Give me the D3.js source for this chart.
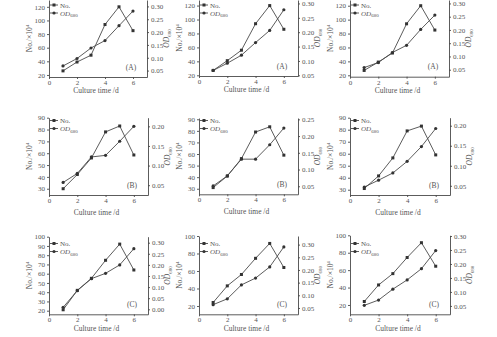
<!DOCTYPE html>
<html><head><meta charset="utf-8">
<script src="https://cdn.jsdelivr.net/npm/d3@7"></script>
<style>
body{margin:0;background:#fff}
svg{display:block}
text{font-family:"Liberation Serif","DejaVu Serif",serif;fill:#555}
</style>
</head><body>
<svg id="c" width="497" height="337"></svg>
<script>
// ---------- data ----------
const days = [1, 2, 3, 4, 5, 6];
const xTicks = [0, 2, 4, 6];
const panelLabels = ["(A)", "(A)", "(A)", "(B)", "(B)", "(B)", "(C)", "(C)", "(C)"];
const seriesNames = ["No.", "OD"];

const noA1 = [26, 39, 49, 94, 120, 85];
const odA1 = [0.068, 0.097, 0.138, 0.167, 0.225, 0.282];
const noA2 = [27, 41, 56, 94, 120, 86];
const odA2 = [0.067, 0.092, 0.120, 0.164, 0.206, 0.278];
const noA3 = [27, 39, 52, 94, 120, 85];
const odA3 = [0.058, 0.077, 0.115, 0.142, 0.202, 0.256];

const noB1 = [30, 42, 56, 78, 83, 58.5];
const odB1 = [0.057, 0.080, 0.122, 0.126, 0.162, 0.200];
const noB2 = [31, 41, 56, 79, 83.5, 59];
const odB2 = [0.051, 0.081, 0.131, 0.131, 0.174, 0.224];
const noB3 = [31, 41.5, 56.5, 79, 83, 59];
const odB3 = [0.047, 0.064, 0.082, 0.111, 0.148, 0.193];

const noC1 = [21, 42, 55, 74.5, 92, 64];
const odC1 = [0.009, 0.084, 0.138, 0.162, 0.200, 0.273];
const noC2 = [24, 43, 56, 74.5, 91.5, 64];
const odC2 = [0.063, 0.086, 0.141, 0.168, 0.212, 0.291];
const noC3 = [24, 43, 56, 74.5, 91.5, 64.5];
const odC3 = [0.052, 0.071, 0.110, 0.143, 0.183, 0.248];

const leftTicksA = [20, 40, 60, 80, 100, 120];
const leftTicksB = [30, 40, 50, 60, 70, 80, 90];
const leftTicksC1 = [20, 30, 40, 50, 60, 70, 80, 90, 100];
const leftTicksC = [20, 40, 60, 80, 100];
const rightTicksA = [0.05, 0.10, 0.15, 0.20, 0.25, 0.30];
const rightTicksB = [0.05, 0.10, 0.15, 0.20];
const rightTicksB2 = [0.05, 0.10, 0.15, 0.20, 0.25];
const rightTicksC1 = [0.00, 0.05, 0.10, 0.15, 0.20, 0.25, 0.30];
const rightTicksC = [0.05, 0.10, 0.15, 0.20, 0.25, 0.30];

// ---------- layout ----------
const panels = [
  {no:noA1, od:odA1, lt:leftTicksA, rt:rightTicksA, x0:49, x1:147, y0:0, y1:77, ld:[17,130], rd:[0.025,0.325], row:0},
  {no:noA2, od:odA2, lt:leftTicksA, rt:rightTicksA, x0:199, x1:298, y0:0, y1:76, ld:[19,128], rd:[0.0476,0.312], row:0},
  {no:noA3, od:odA3, lt:leftTicksA, rt:rightTicksA, x0:350, x1:449, y0:0, y1:76.7, ld:[18,128.2], rd:[0.0236,0.313], row:0},
  {no:noB1, od:odB1, lt:leftTicksB, rt:rightTicksB, x0:49, x1:148, y0:117.7, y1:195, ld:[24.7,90], rd:[0.025,0.222], row:1},
  {no:noB2, od:odB2, lt:leftTicksB, rt:rightTicksB2, x0:199, x1:298, y0:118, y1:194.3, ld:[25.2,91.1], rd:[0.026,0.254], row:1},
  {no:noB3, od:odB3, lt:leftTicksB, rt:rightTicksB, x0:350, x1:450, y0:117.7, y1:195, ld:[25.6,90], rd:[0.027,0.22], row:1},
  {no:noC1, od:odC1, lt:leftTicksC1, rt:rightTicksC1, x0:49, x1:148, y0:236.7, y1:314.3, ld:[16.1,100], rd:[-0.0225,0.327], row:2},
  {no:noC2, od:odC2, lt:leftTicksC, rt:rightTicksC, x0:199, x1:298, y0:236, y1:314.3, ld:[10.5,100], rd:[0.025,0.334], row:2},
  {no:noC3, od:odC3, lt:leftTicksC, rt:rightTicksC, x0:350, x1:450, y0:235.3, y1:314.3, ld:[9.3,100], rd:[0.020,0.3025], row:2}
];
const titleOffset = [13.5, 17, 14];
const legendY = [5, 120.5, 243.5];

const svg = d3.select("#c");
const ink = "#4a4a4a";
const fmt2 = d3.format(".2f");
const fmtInt = d3.format("d");

panels.forEach((p, i) => {
  const g = svg.append("g");
  const x = d3.scaleLinear().domain([0, 7]).range([p.x0, p.x1]);
  const yL = d3.scaleLinear().domain(p.ld).range([p.y1, p.y0]);
  const yR = d3.scaleLinear().domain(p.rd).range([p.y1, p.y0]);

  const styleAxis = sel => {
    sel.selectAll("path,line").attr("stroke", ink).attr("stroke-width", 0.9);
    sel.selectAll("text").attr("font-size", 7).attr("fill", "#555")
      .attr("font-family", "'Liberation Serif',serif");
  };

  g.append("g").attr("transform", `translate(0,${p.y1})`)
    .call(d3.axisBottom(x).tickValues(xTicks).tickFormat(fmtInt).tickSize(2).tickPadding(1).tickSizeOuter(0))
    .call(styleAxis);
  g.append("g").attr("transform", `translate(${p.x0},0)`)
    .call(d3.axisLeft(yL).tickValues(p.lt).tickFormat(fmtInt).tickSize(2).tickPadding(2).tickSizeOuter(0))
    .call(styleAxis);
  g.append("g").attr("transform", `translate(${p.x1},0)`)
    .call(d3.axisRight(yR).tickValues(p.rt).tickFormat(fmt2).tickSize(2).tickPadding(2).tickSizeOuter(0))
    .call(styleAxis);

  // lines
  const lineL = d3.line().x((d, j) => x(days[j])).y(d => yL(d));
  const lineR = d3.line().x((d, j) => x(days[j])).y(d => yR(d));
  g.append("path").attr("d", lineL(p.no)).attr("fill", "none").attr("stroke", ink).attr("stroke-width", 0.9);
  g.append("path").attr("d", lineR(p.od)).attr("fill", "none").attr("stroke", ink).attr("stroke-width", 0.9);
  g.selectAll(".mn").data(p.no).enter().append("rect")
    .attr("x", (d, j) => x(days[j]) - 1.5).attr("y", d => yL(d) - 1.5)
    .attr("width", 3).attr("height", 3).attr("fill", "#333");
  g.selectAll(".mo").data(p.od).enter().append("circle")
    .attr("cx", (d, j) => x(days[j])).attr("cy", d => yR(d)).attr("r", 1.6).attr("fill", "#333");

  // axis titles
  const cy = (p.y0 + p.y1) / 2;
  g.append("text").attr("x", (p.x0 + p.x1) / 2 - 2).attr("y", p.y1 + titleOffset[p.row] + 2.5)
    .attr("text-anchor", "middle").attr("font-size", 7.5).text("Culture time /d");
  const lt = g.append("text").attr("transform", `translate(${p.x0 - 17},${cy}) rotate(-90)`)
    .attr("text-anchor", "middle").attr("font-size", 7.5);
  lt.append("tspan").text("No./×10");
  lt.append("tspan").attr("font-size", 5).attr("dy", -3).text("4");
  const rtt = g.append("text").attr("transform", `translate(${p.x1 + 22},${cy}) rotate(-90)`)
    .attr("text-anchor", "middle").attr("font-size", 7.5);
  rtt.append("tspan").attr("font-style", "italic").text("OD");
  rtt.append("tspan").attr("font-size", 5).attr("dy", 2).text("680");

  // panel label
  g.append("text").attr("x", p.x1 - 16).attr("y", p.y1 - 7.5)
    .attr("text-anchor", "middle").attr("font-size", 7.5).text(panelLabels[i]);

  // legend
  const ly = legendY[p.row];
  [0, 1].forEach(k => {
    const yy = ly + k * 8;
    const lx = p.x0 + 1;
    g.append("line").attr("x1", lx).attr("x2", lx + 8).attr("y1", yy).attr("y2", yy)
      .attr("stroke", ink).attr("stroke-width", 0.9);
    if (k === 0) g.append("rect").attr("x", lx + 2.5).attr("y", yy - 1.5).attr("width", 3).attr("height", 3).attr("fill", "#333");
    else g.append("circle").attr("cx", lx + 4).attr("cy", yy).attr("r", 1.6).attr("fill", "#333");
    const t = g.append("text").attr("x", lx + 10).attr("y", yy + 2.5).attr("font-size", 7);
    if (k === 0) t.text(seriesNames[0]);
    else {
      t.append("tspan").attr("font-style", "italic").text(seriesNames[1]);
      t.append("tspan").attr("font-size", 5).attr("dy", 1.5).text("680");
    }
  });
});
</script>
</body></html>
